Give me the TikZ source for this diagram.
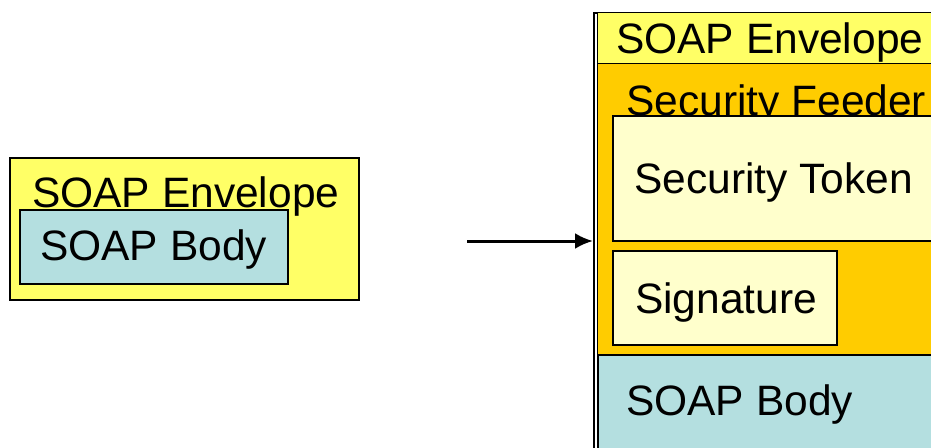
\documentclass[tikz,border=0pt]{standalone}
\usepackage{fontspec}
\setmainfont{Liberation Sans}
\usetikzlibrary{arrows.meta}

\definecolor{envyellow}{HTML}{FFFF66}
\definecolor{feedorange}{HTML}{FFCC00}
\definecolor{tokenyellow}{HTML}{FFFFCC}
\definecolor{bodyblue}{HTML}{B4DFE0}

\tikzset{
	box/.style={draw=black, line width=1.5pt, inner sep=0pt, anchor=north west},
	lbl/.style={anchor=base west, inner sep=0pt, font=\fontsize{42.5}{50}\selectfont}
}

\begin{document}
\begin{tikzpicture}[x=1pt, y=-1pt]
	\clip (0,0) rectangle (931,447);

%left envelope
	\node[box, line width=2pt, fill=envyellow, minimum width=349pt, minimum height=142pt] (envL) at (9,157) {};
	\node[lbl] (envLtxt) at (32,207) {SOAP Envelope};
	\node[box, fill=bodyblue, minimum width=268pt, minimum height=74pt] (bodyL) at (19,209) {};
	\node[lbl] (bodyLtxt) at (40,260) {SOAP Body};

%right envelope
	\node[box, fill=white, minimum width=360pt, minimum height=460pt] (envR) at (593,12) {};
	\node[box, line width=1pt, fill=envyellow, minimum width=350pt, minimum height=51pt] (headR) at (597,12) {};
	\node[lbl] (headRtxt) at (616,53) {SOAP Envelope};
	\node[box, line width=1pt, fill=feedorange, minimum width=350pt, minimum height=291pt] (feeder) at (597,63) {};
	\node[lbl] (feedertxt) at (626,115) {Security Feeder};
	\node[box, fill=tokenyellow, minimum width=340pt, minimum height=125pt] (token) at (612,115) {};
	\node[lbl] (tokentxt) at (634,193) {Security Token};
	\node[box, fill=tokenyellow, minimum width=224pt, minimum height=94pt] (sig) at (612,250) {};
	\node[lbl] (sigtxt) at (635,313) {Signature};
	\node[box, fill=bodyblue, minimum width=350pt, minimum height=110pt] (bodyR) at (597,354) {};
	\node[lbl] (bodyRtxt) at (626,415) {SOAP Body};

%arrow
	\coordinate (arrS) at (467,241);
	\draw[line width=3pt, -{Latex[length=18pt, width=16pt]}] (arrS) -- (envR.west |- arrS);

\end{tikzpicture}
\end{document}
